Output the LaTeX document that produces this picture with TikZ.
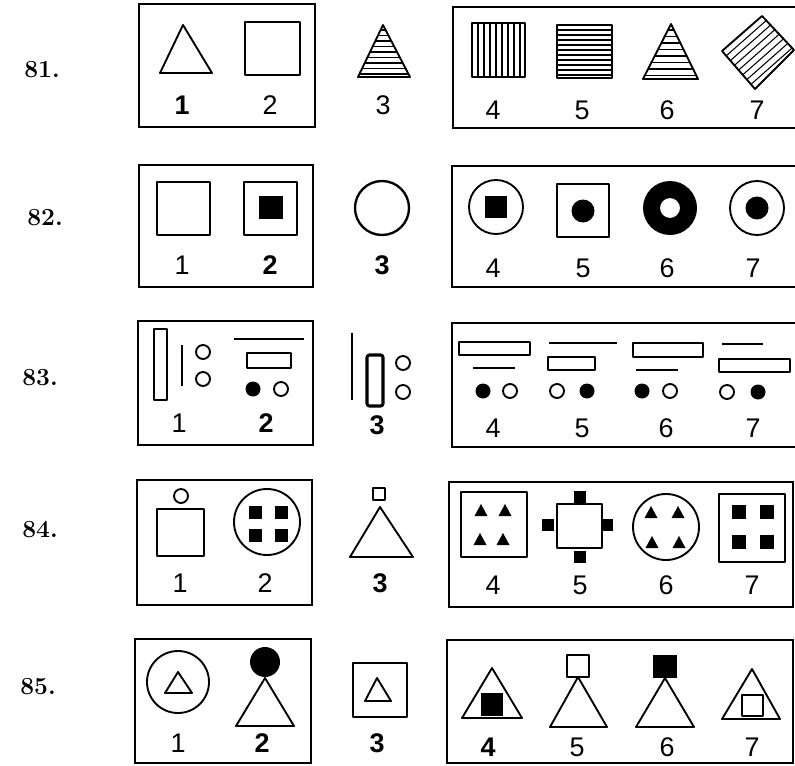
\documentclass[tikz,border=0pt]{standalone}
\usepackage{fontspec}
\setsansfont{Liberation Sans}
\tikzset{
    frame/.style={draw, line width=1.7pt},
    fig/.style={draw, line width=1.6pt, line join=round},
    hatch/.style={line width=0.9pt},
    num/.style={font=\sffamily\fontsize{23}{23}\selectfont, inner sep=0pt},
    rowno/.style={font=\bfseries\fontsize{21}{21}\selectfont, inner sep=0pt},
}
\begin{document}
\begin{tikzpicture}[x=0.03cm, y=-0.03cm]
    \useasboundingbox (0,0) rectangle (795,765);

    % row numbers
    \node[rowno] (r81) at (42,70)  {81.};
    \node[rowno] (r82) at (45,218) {82.};
    \node[rowno] (r83) at (40,378) {83.};
    \node[rowno] (r84) at (40,530) {84.};
    \node[rowno] (r85) at (38,687) {85.};

    % ---- 81
    \draw[frame] (139,4) rectangle (315,127);
    \draw[frame] (795,7) -- (453,7) -- (453,128) -- (795,128);
    \draw[fig] (183,25) -- (212,73) -- (160,73) -- cycle;
    \draw[fig] (245,22) rectangle (300,75);
    \begin{scope}
        \clip (383,25) -- (410,77) -- (358,77) -- cycle;
        \foreach \y in {30,35.5,...,77} \draw[hatch] (350,\y) -- (420,\y);
    \end{scope}
    \draw[fig] (383,25) -- (410,77) -- (358,77) -- cycle;
    \foreach \x in {478,484,...,520} \draw[hatch] (\x,23) -- (\x,77);
    \draw[fig] (472,23) rectangle (525,77);
    \foreach \y in {30,35,...,75} \draw[hatch] (557,\y) -- (612,\y);
    \draw[fig] (557,25) rectangle (612,78);
    \begin{scope}
        \clip (671,24) -- (698,79) -- (643,79) -- cycle;
        \foreach \y in {30,36.5,...,79} \draw[hatch] (630,\y) -- (710,\y);
    \end{scope}
    \draw[fig] (671,24) -- (698,79) -- (643,79) -- cycle;
    \begin{scope}
        \clip (722,51) -- (762,16) -- (794,50) -- (755,89) -- cycle;
        \foreach \s in {0.125,0.25,...,0.9}
            \draw[hatch, shift={(\s*33,\s*38)}] (712,60) -- (772,7);
    \end{scope}
    \draw[fig] (722,51) -- (762,16) -- (794,50) -- (755,89) -- cycle;
    \node[num] (a1) at (182,105) {\bfseries 1};
    \node[num] (a2) at (270,105) {2};
    \node[num] (a3) at (383,105) {3};
    \node[num] (a4) at (493,110) {4};
    \node[num] (a5) at (582,110) {5};
    \node[num] (a6) at (667,110) {6};
    \node[num] (a7) at (757,110) {7};

    % ---- 82
    \draw[frame] (139,165) rectangle (313,287);
    \draw[frame] (795,166) -- (452,166) -- (452,287) -- (795,287);
    \draw[fig] (157,182) rectangle (210,235);
    \draw[fig] (244,182) rectangle (297,235);
    \fill (259,196) rectangle (283,219);
    \draw[fig, line width=2pt] (382,208) circle (27);
    \draw[fig] (496,207) circle (27);
    \fill (485,196) rectangle (507,218);
    \draw[fig] (557,184) rectangle (609,237);
    \fill (583,211) circle (11.5);
    \fill[even odd rule] (670,208) circle (27) (670,208) circle (10);
    \draw[fig] (757,208) circle (27);
    \fill (757,208) circle (11.5);
    \node[num] (b1) at (182,265) {1};
    \node[num] (b2) at (270,265) {\bfseries 2};
    \node[num] (b3) at (382,265) {\bfseries 3};
    \node[num] (b4) at (493,268) {4};
    \node[num] (b5) at (583,268) {5};
    \node[num] (b6) at (667,268) {6};
    \node[num] (b7) at (753,268) {7};

    % ---- 83
    \draw[frame] (138,321) rectangle (313,445);
    \draw[frame] (795,323) -- (452,323) -- (452,447) -- (795,447);
    \draw[fig] (154,329) rectangle (167,400);
    \draw[fig] (182,345) -- (182,386);
    \draw[fig] (203,352) circle (7) (203,379) circle (7);
    \draw[fig] (234,339) -- (304,339);
    \draw[fig] (247,353) rectangle (291,368);
    \fill (253,389) circle (7.5);
    \draw[fig] (281,389) circle (7);
    \draw[fig] (352,333) -- (352,400);
    \draw[fig, line width=2.6pt, rounded corners=2pt] (367,355) rectangle (383,406);
    \draw[fig] (403,363) circle (7) (403,392) circle (7);
    \draw[fig] (459,342) rectangle (530,355);
    \draw[fig] (473,368) -- (515,368);
    \fill (483,391) circle (7.5);
    \draw[fig] (510,391) circle (7);
    \draw[fig] (549,343) -- (617,343);
    \draw[fig] (548,357) rectangle (595,370);
    \draw[fig] (557,391) circle (7);
    \fill (587,391) circle (7.5);
    \draw[fig] (633,343) rectangle (703,357);
    \draw[fig] (636,370) -- (678,370);
    \fill (642,391) circle (7.5);
    \draw[fig] (670,391) circle (7);
    \draw[fig] (722,344) -- (763,344);
    \draw[fig] (719,359) rectangle (790,372);
    \draw[fig] (727,392) circle (7);
    \fill (758,392) circle (7.5);
    \node[num] (c1) at (179,423) {1};
    \node[num] (c2) at (266,423) {\bfseries 2};
    \node[num] (c3) at (377,425) {\bfseries 3};
    \node[num] (c4) at (493,428) {4};
    \node[num] (c5) at (582,428) {5};
    \node[num] (c6) at (666,428) {6};
    \node[num] (c7) at (753,428) {7};

    % ---- 84
    \draw[frame] (137,480) rectangle (312,605);
    \draw[frame] (449,482) rectangle (793,607);
    \draw[fig] (181,496) circle (7);
    \draw[fig] (157,509) rectangle (204,556);
    \draw[fig] (267,522) circle (33);
    \foreach \x/\y in {255/512,281/512,255/535,281/535}
        \fill[shift={(\x,\y)}] (-6.5,-6.5) rectangle (6.5,6.5);
    \draw[fig] (373,488) rectangle (385,500);
    \draw[fig] (380,507) -- (413,557) -- (350,557) -- cycle;
    \draw[fig] (461,492) rectangle (527,557);
    \foreach \x/\y in {481/510,505/510,480/539,503/539,651/512,678/512,652/542,679/542}
        \fill[shift={(\x,\y)}] (-6.5,6) -- (6.5,6) -- (0,-6) -- cycle;
    \draw[fig] (557,504) rectangle (602,548);
    \foreach \x/\y in {580/497,548/525,607/525,580/557}
        \fill[shift={(\x,\y)}] (-6,-6) rectangle (6,6);
    \draw[fig] (666,527) circle (33);
    \draw[fig] (719,494) rectangle (785,562);
    \foreach \x/\y in {739/512,767/512,739/542,767/542}
        \fill[shift={(\x,\y)}] (-7,-7) rectangle (7,7);
    \node[num] (d1) at (180,583) {1};
    \node[num] (d2) at (265,583) {2};
    \node[num] (d3) at (380,583) {\bfseries 3};
    \node[num] (d4) at (493,585) {4};
    \node[num] (d5) at (580,585) {5};
    \node[num] (d6) at (666,585) {6};
    \node[num] (d7) at (752,585) {7};

    % ---- 85
    \draw[frame] (135,639) rectangle (311,763);
    \draw[frame] (447,640) rectangle (793,763);
    \draw[fig] (178,682) circle (31);
    \draw[fig] (178,672) -- (192,693) -- (165,693) -- cycle;
    \fill (265,662) circle (15);
    \draw[fig] (265,678) -- (294,726) -- (236,726) -- cycle;
    \draw[fig, line width=2pt] (353,663) rectangle (407,717);
    \draw[fig] (377,678) -- (391,701) -- (365,701) -- cycle;
    \draw[fig] (492,668) -- (522,718) -- (462,718) -- cycle;
    \fill (481,693) rectangle (503,716);
    \draw[fig] (567,655) rectangle (589,677);
    \draw[fig] (578,677) -- (607,727) -- (550,727) -- cycle;
    \fill (653,655) rectangle (677,678);
    \draw[fig] (665,678) -- (694,727) -- (636,727) -- cycle;
    \draw[fig] (752,669) -- (780,719) -- (722,719) -- cycle;
    \draw[fig] (742,695) rectangle (763,716);
    \node[num] (e1) at (178,743) {1};
    \node[num] (e2) at (262,743) {\bfseries 2};
    \node[num] (e3) at (377,743) {\bfseries 3};
    \node[num] (e4) at (488,747) {\bfseries 4};
    \node[num] (e5) at (577,747) {5};
    \node[num] (e6) at (667,747) {6};
    \node[num] (e7) at (752,747) {7};
\end{tikzpicture}
\end{document}
